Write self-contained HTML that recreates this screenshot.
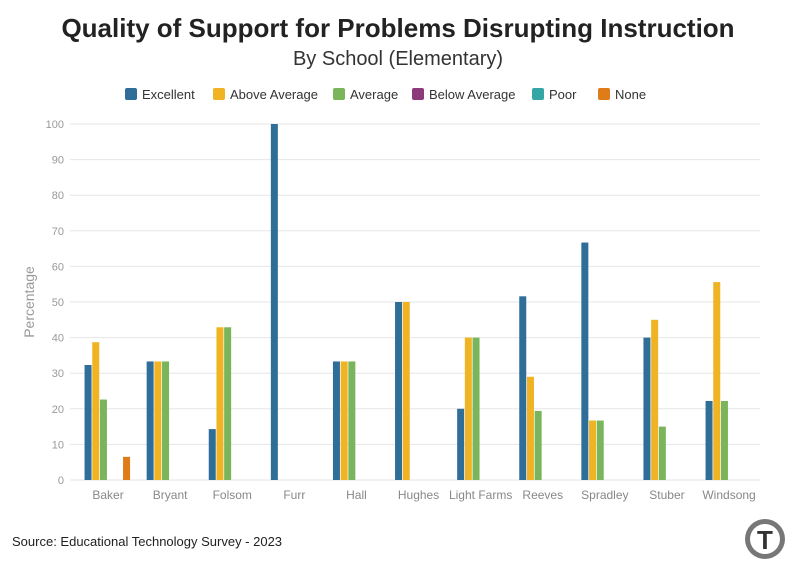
<!DOCTYPE html>
<html><head><meta charset="utf-8"><style>
body{margin:0;background:#fff;font-family:"Liberation Sans",sans-serif;}
svg text{font-family:"Liberation Sans",sans-serif;}
</style></head><body>
<svg width="796" height="575" xmlns="http://www.w3.org/2000/svg">
<text x="398" y="37" text-anchor="middle" font-size="26" font-weight="bold" fill="#222">Quality of Support for Problems Disrupting Instruction</text>
<text x="398" y="65" text-anchor="middle" font-size="20" fill="#333">By School (Elementary)</text>
<g id="legend"></g>
<g id="grid"></g>
<g id="bars"></g>
<g id="xl"></g>
<text transform="translate(34,302) rotate(-90)" text-anchor="middle" font-size="14" fill="#999">Percentage</text>
<text x="12" y="546" font-size="13" fill="#222">Source: Educational Technology Survey - 2023</text>
<g><circle cx="765" cy="539" r="20" fill="#777"/><circle cx="765" cy="539" r="15" fill="#fff"/><text x="765" y="549" text-anchor="middle" font-size="26" font-weight="bold" fill="#333">T</text></g>
</svg>
<script>
const categories=["Baker","Bryant","Folsom","Furr","Hall","Hughes","Light Farms","Reeves","Spradley","Stuber","Windsong"];
const seriesNames=["Excellent","Above Average","Average","Below Average","Poor","None"];
const excellent=[32.3,33.3,14.3,100,33.3,50,20,51.6,66.7,40,22.2];
const aboveAverage=[38.7,33.3,42.9,0,33.3,50,40,29,16.7,45,55.6];
const average=[22.6,33.3,42.9,0,33.3,0,40,19.4,16.7,15,22.2];
const belowAverage=[0,0,0,0,0,0,0,0,0,0,0];
const poor=[0,0,0,0,0,0,0,0,0,0,0];
const none=[6.5,0,0,0,0,0,0,0,0,0,0];
const yTicks=[0,10,20,30,40,50,60,70,80,90,100];
const series=[excellent,aboveAverage,average,belowAverage,poor,none];
const colors=["#2e6e99","#f0b323","#7ab55c","#8c3b7a","#35a6a6","#e07b1a"];
const NS="http://www.w3.org/2000/svg";
const x0=77,step=62.1,yb=480,yt=124;
const y=v=>yb-(v/100)*(yb-yt);
const cx=i=>x0+step*(i+0.5);
function mk(t,a,p){const e=document.createElementNS(NS,t);for(const k in a)e.setAttribute(k,a[k]);p.appendChild(e);return e;}
const grid=document.getElementById('grid');
yTicks.forEach(t=>{
 const l=mk('line',{x1:70,x2:760,y1:y(t),y2:y(t),stroke:'#e6e6e6','stroke-width':1},grid);
 
 
 const tx=mk('text',{x:64,y:y(t)+4,'text-anchor':'end','font-size':11,fill:'#999'},grid);
 tx.textContent=t;
 
 
});
const bars=document.getElementById('bars');
const bw=7,slot=7.7;
series.forEach((s,si)=>{
 s.forEach((v,i)=>{
  if(v<=0)return;
  const r=mk('rect',{x:cx(i)-23.5+si*slot,y:y(v),width:bw,height:yb-y(v),fill:colors[si]},bars);
  
  
 });
});
const xl=document.getElementById('xl');
categories.forEach((c,i)=>{
 const t=mk('text',{x:cx(i),y:499,'text-anchor':'middle','font-size':12,fill:'#888'},xl);
 t.textContent=c;
 
 
});
const lg=document.getElementById('legend');
const lx=[125,213,333,412,532,598];
seriesNames.forEach((n,i)=>{
 const g=mk('g',{},lg);
 
 
 mk('rect',{x:lx[i],y:88,width:12,height:12,rx:2,fill:colors[i]},g);
 const t=mk('text',{x:lx[i]+17,y:99,'font-size':13,fill:'#333'},g);
 t.textContent=n;
});
</script>
</body></html>
